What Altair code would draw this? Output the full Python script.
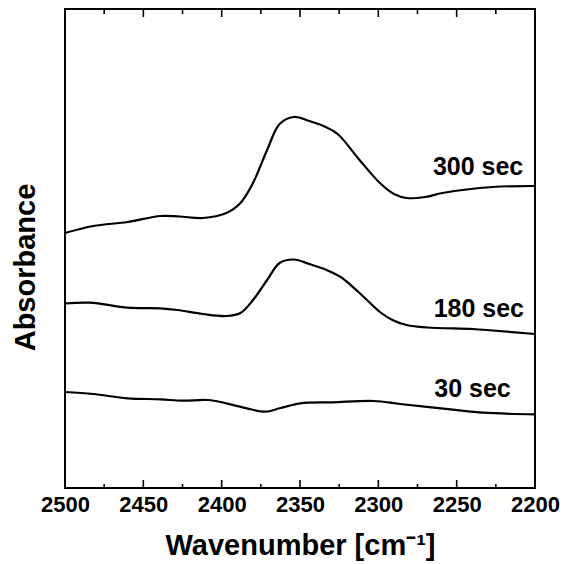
import altair as alt
import pandas as pd

# --- data (absorbance in arbitrary, offset units) ---
wn_300 = [2500, 2482, 2460, 2439, 2427, 2412, 2397, 2388, 2380, 2371, 2363, 2354,
          2344, 2335, 2326, 2312, 2299, 2290, 2282, 2270, 2259, 2227, 2200]
ab_300 = [2.55, 2.62, 2.66, 2.72, 2.715, 2.70, 2.75, 2.85, 3.05, 3.38, 3.64, 3.71,
          3.67, 3.62, 3.54, 3.28, 3.05, 2.94, 2.90, 2.91, 2.95, 3.01, 3.02]

wn_180 = [2500, 2484, 2460, 2439, 2428, 2412, 2397, 2388, 2380, 2371, 2363, 2354,
          2344, 2333, 2324, 2312, 2299, 2291, 2282, 2269, 2240, 2227, 2200]
ab_180 = [1.845, 1.853, 1.803, 1.797, 1.78, 1.74, 1.72, 1.75, 1.88, 2.08, 2.25, 2.285,
          2.24, 2.18, 2.11, 1.95, 1.76, 1.68, 1.63, 1.605, 1.59, 1.575, 1.54]

wn_30 = [2500, 2482, 2460, 2439, 2425, 2409, 2397, 2384, 2372, 2363, 2350, 2329,
         2303, 2286, 2254, 2233, 2200]
ab_30 = [0.96, 0.94, 0.897, 0.887, 0.873, 0.88, 0.847, 0.797, 0.763, 0.797, 0.847, 0.857,
         0.87, 0.84, 0.787, 0.753, 0.737]

label_text = ["300 sec", "180 sec", "30 sec"]
label_wn = [2207.5, 2207, 2215.5]
label_ab = [3.13, 1.707, 0.913]

major_ticks = [2500, 2450, 2400, 2350, 2300, 2250, 2200]
minor_ticks = [2475, 2425, 2375, 2325, 2275, 2225]

# --- tables ---
rows = []
for name, wn, ab in (("300 sec", wn_300, ab_300), ("180 sec", wn_180, ab_180), ("30 sec", wn_30, ab_30)):
    for w, a in zip(wn, ab):
        rows.append({"series": name, "wavenumber": w, "absorbance": a})
df = pd.DataFrame(rows)
df_lab = pd.DataFrame({"label": label_text, "wavenumber": label_wn, "absorbance": label_ab})
df_major = pd.DataFrame({"wavenumber": major_ticks})
df_minor = pd.DataFrame({"wavenumber": minor_ticks})

FONT = "Liberation Sans"
W, H = 470, 479

xscale = alt.Scale(domain=[2200, 2500], reverse=True, nice=False, zero=False)
yscale = alt.Scale(domain=[0, 4.79], nice=False, zero=False)

xaxis = alt.Axis(
    values=major_ticks, format="d", ticks=False, domain=False, grid=False,
    labelFont=FONT, labelFontSize=22, labelFontWeight="bold", labelColor="black",
    labelPadding=6, labelFlush=False, labelOverlap=False,
    title="Wavenumber [cm⁻¹]", titleFont=FONT, titleFontSize=29, titleFontWeight="bold",
    titleColor="black", titleBaseline="alphabetic", titleY=66, titleX=W / 2, titleAlign="center",
)
yaxis = alt.Axis(
    labels=False, ticks=False, domain=False, grid=False,
    title="Absorbance", titleFont=FONT, titleFontSize=29, titleFontWeight="bold",
    titleColor="black", titleAngle=270, titleX=-31, titleY=258,
    titleBaseline="alphabetic", titleAlign="center",
)

xenc = alt.X("wavenumber:Q", scale=xscale, axis=xaxis)
yenc = alt.Y("absorbance:Q", scale=yscale, axis=yaxis)

lines = alt.Chart(df).mark_line(color="black", strokeWidth=2.2, interpolate="catmull-rom").encode(
    x=xenc, y=yenc, detail="series:N"
)

labels = alt.Chart(df_lab).mark_text(
    font=FONT, fontSize=25, fontWeight="bold", color="black", align="right", baseline="alphabetic"
).encode(x=xenc, y=yenc, text="label:N")

def tick_layer(data, y1, y2):
    return alt.Chart(data).mark_rule(color="black", strokeWidth=1.6).encode(
        x=xenc, y=alt.value(y1), y2=alt.value(y2)
    )

ticks = [
    tick_layer(df_major, H, H - 8),
    tick_layer(df_major, 0, 8),
    tick_layer(df_minor, H, H - 4),
    tick_layer(df_minor, 0, 5),
]

chart = alt.layer(lines, labels, *ticks).properties(
    width=W, height=H,
    autosize=alt.AutoSizeParams(type="none"),
    padding={"left": 57, "top": 1, "right": 27, "bottom": 75},
    background="white",
).configure_view(stroke="black", strokeWidth=2)

chart.save("out.html", embed_options={"renderer": "svg", "actions": False})
